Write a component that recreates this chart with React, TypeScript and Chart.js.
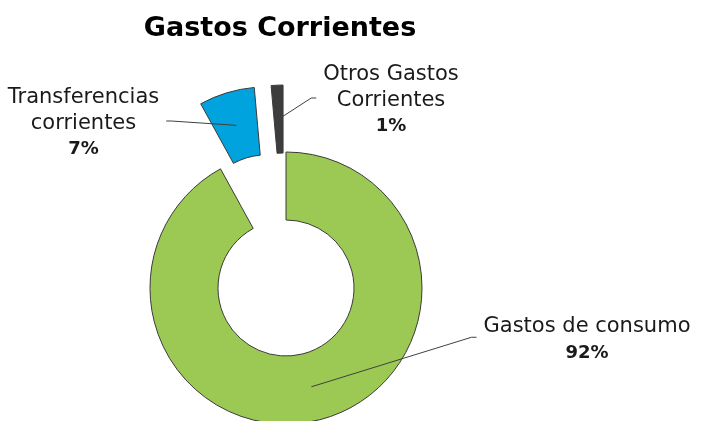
import React, { useEffect, useRef } from 'react';
import { Chart, registerables } from 'chart.js';

Chart.register(...registerables);

// ---- data ----
const TITLE = 'Gastos Corrientes';
const CATEGORIES: string[][] = [
  ['Gastos de consumo'],
  ['Transferencias', 'corrientes'],
  ['Otros Gastos', 'Corrientes'],
];
const VALUES = [92.0, 6.6, 1.4];

// ---- styles ----
const COLORS = ['#9BC953', '#00A3DD', '#3D3D3D'];
const BORDER = '#3a3a3a';
const EXPLODE = [0, 68, 67];
const LABEL_ANCHORS = [
  { cx: 587, top: 332, side: 'left' },
  { cx: 83.5, top: 103, side: 'right' },
  { cx: 391, top: 80, side: 'left' },
];
const FONT_FAMILY = '"DejaVu Sans", sans-serif';
const NAME_FONT = `21px ${FONT_FAMILY}`;
const PCT_FONT = `bold 18px ${FONT_FAMILY}`;
const TITLE_FONT = `bold 27px ${FONT_FAMILY}`;
const LINE_H = 25.5;
const CAP = 15;
const GAP = 7;
const STUB = 5;
const TEXT = '#1a1a1a';
const LEADER = '#404040';

const explodePlugin = {
  id: 'explodeSlices',
  afterDatasetUpdate(chart: any, args: any) {
    const meta = args.meta || chart.getDatasetMeta(args.index);
    meta.data.forEach((arc: any, i: number) => {
      const d = EXPLODE[i] || 0;
      const mid = (arc.startAngle + arc.endAngle) / 2;
      arc.x += Math.cos(mid) * d;
      arc.y += Math.sin(mid) * d;
    });
  },
};

const labelPlugin = {
  id: 'sliceLabels',
  afterDatasetsDraw(chart: any) {
    const ctx: CanvasRenderingContext2D = chart.ctx;
    const meta = chart.getDatasetMeta(0);
    const total = VALUES.reduce((a, b) => a + b, 0);
    meta.data.forEach((arc: any, i: number) => {
      const mid = (arc.startAngle + arc.endAngle) / 2;
      const r = (arc.innerRadius + arc.outerRadius) / 2;
      const px = arc.x + Math.cos(mid) * r;
      const py = arc.y + Math.sin(mid) * r;
      const lines = CATEGORIES[i];
      const pct = Math.round((VALUES[i] / total) * 100) + '%';
      const a = LABEL_ANCHORS[i];
      ctx.save();
      ctx.font = NAME_FONT;
      let w = 0;
      lines.forEach((l) => (w = Math.max(w, ctx.measureText(l).width)));
      ctx.font = PCT_FONT;
      w = Math.max(w, ctx.measureText(pct).width);
      const lastBase = a.top + LINE_H * lines.length;
      const midY = (a.top - CAP + lastBase) / 2;
      const ex = a.side === 'left' ? a.cx - w / 2 - GAP : a.cx + w / 2 + GAP;
      const sx = a.side === 'left' ? ex - STUB : ex + STUB;
      ctx.beginPath();
      ctx.moveTo(px, py);
      ctx.lineTo(sx, midY);
      ctx.lineTo(ex, midY);
      ctx.strokeStyle = LEADER;
      ctx.lineWidth = 1;
      ctx.stroke();
      ctx.fillStyle = TEXT;
      ctx.textAlign = 'center';
      ctx.textBaseline = 'alphabetic';
      ctx.font = NAME_FONT;
      lines.forEach((l, k) => ctx.fillText(l, a.cx, a.top + k * LINE_H));
      ctx.font = PCT_FONT;
      ctx.fillText(pct, a.cx, lastBase);
      ctx.restore();
    });
    ctx.save();
    ctx.font = TITLE_FONT;
    ctx.fillStyle = '#000';
    ctx.textAlign = 'center';
    ctx.textBaseline = 'alphabetic';
    ctx.fillText(TITLE, 280, 36);
    ctx.restore();
  },
};

export default function App() {
  const ref = useRef<HTMLCanvasElement | null>(null);
  useEffect(() => {
    if (!ref.current) return;
    const chart = new Chart(ref.current, {
      type: 'doughnut',
      data: {
        labels: CATEGORIES as any,
        datasets: [
          {
            data: VALUES,
            backgroundColor: COLORS,
            borderColor: BORDER,
            borderWidth: 1,
            hoverOffset: 0,
            clip: false as any,
          },
        ],
      },
      options: {
        responsive: false,
        animation: false,
        radius: 136,
        cutout: '50%',
        events: [],
        layout: { padding: { left: 0, right: 131, top: 155, bottom: 0 } },
        plugins: {
          legend: { display: false },
          tooltip: { enabled: false },
          title: { display: false },
        },
      } as any,
      plugins: [explodePlugin, labelPlugin],
    });
    return () => chart.destroy();
  }, []);
  return (
    <div style={{ position: 'fixed', left: 0, top: 0, width: 703, height: 421, background: '#fff' }}>
      <canvas ref={ref} width={703} height={421} style={{ display: 'block' }} />
    </div>
  );
}
